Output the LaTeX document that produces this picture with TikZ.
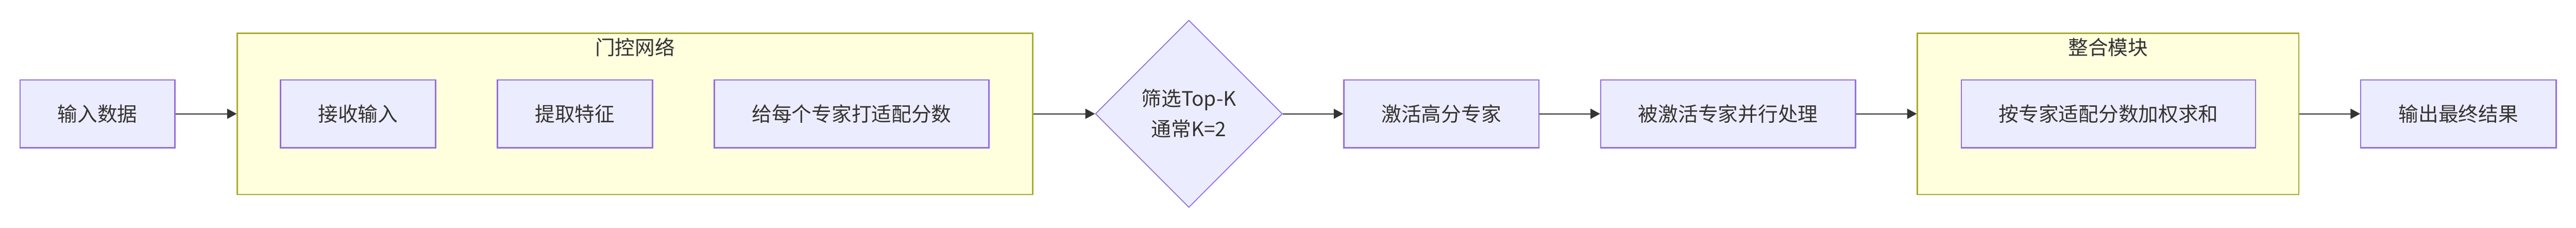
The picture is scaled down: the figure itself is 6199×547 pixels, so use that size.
\documentclass[tikz,border=0pt]{standalone}
\usepackage{fontspec}
\setmainfont{Noto Sans CJK SC}
\usetikzlibrary{arrows.meta,shapes.geometric}

\definecolor{boxfill}{HTML}{ECECFF}
\definecolor{boxline}{HTML}{9370DB}
\definecolor{grpfill}{HTML}{FFFFDE}
\definecolor{grpline}{HTML}{AAAA33}
\definecolor{ink}{HTML}{333333}

\tikzset{
    stage/.style={draw=boxline, fill=boxfill, line width=0.75pt, minimum height=40.75pt, inner sep=0pt, text=ink},
    group/.style={draw=grpline, fill=grpfill, line width=0.7pt, minimum height=96.75pt, inner sep=0pt},
    grouptitle/.style={text=ink, inner sep=0pt},
    choice/.style={diamond, aspect=1, draw=boxline, fill=boxfill, line width=0.55pt, minimum size=112.5pt, inner sep=0pt, align=center, text=ink},
    flow/.style={-{Triangle[length=5.75pt,width=6pt]}, draw=ink, line width=0.67pt},
}

\begin{document}
\begin{tikzpicture}[x=0.25pt, y=-0.25pt, font=\fontsize{12pt}{18.25pt}\selectfont]
        \useasboundingbox (0,0) rectangle (6199,547);

        % groups first, so they sit behind
        \node[group, minimum width=478.5pt] (gate) at (1528,273.5) {};
        \node[grouptitle] (gatetitle) at (1528,113.5) {门控网络};
        \node[group, minimum width=229.5pt] (merge) at (5073,273.5) {};
        \node[grouptitle] (mergetitle) at (5073,113.5) {整合模块};

        \node[stage, minimum width=93.25pt] (input) at (234.5,273.5) {输入数据};
        \node[stage, minimum width=93.25pt] (recv) at (861.5,273.5) {接收输入};
        \node[stage, minimum width=93.25pt] (feat) at (1383.5,273.5) {提取特征};
        \node[stage, minimum width=165.25pt] (score) at (2049.5,273.5) {给每个专家打适配分数};
        \node[choice] (topk) at (2861,273.5) {筛选Top-K\\通常K=2};
        \node[stage, minimum width=117.25pt] (act) at (3468.5,273.5) {激活高分专家};
        \node[stage, minimum width=153.25pt] (par) at (4158.5,273.5) {被激活专家并行处理};
        \node[stage, minimum width=177pt] (wsum) at (5074,273.5) {按专家适配分数加权求和};
        \node[stage, minimum width=117.5pt] (output) at (5916,273.5) {输出最终结果};

        \draw[flow] (input) -- (gate);
        \draw[flow] (gate) -- (topk);
        \draw[flow] (topk) -- (act);
        \draw[flow] (act) -- (par);
        \draw[flow] (par) -- (merge);
        \draw[flow] (merge) -- (output);

    \end{tikzpicture}
\end{document}
